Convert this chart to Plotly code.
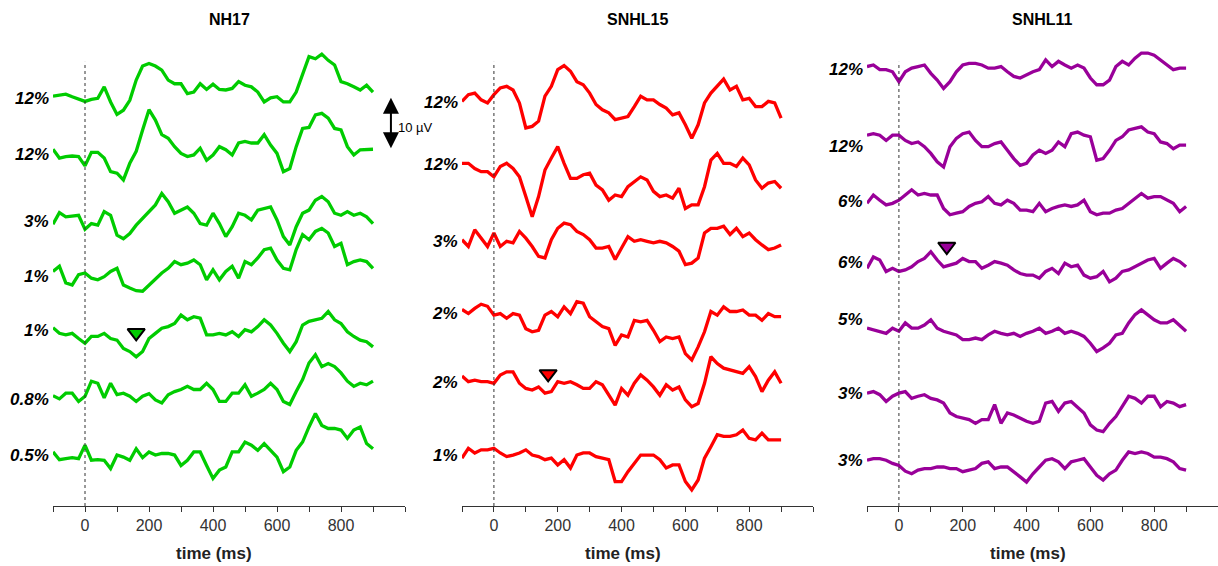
import plotly.graph_objects as go

# ---------------- data (µV, relative to each trace's own baseline) ----------------
time_ms = list(range(-100, 901, 20))

# NH17 (green)
nh17_a = [0, 0.2, 0.4, -0.1, -0.6, -1.0, -0.6, -0.4, 1.8, -1.1, -3.5, -2.7, -0.8, 3.1, 5.8, 6.3, 5.8, 5.0, 3.1, 2.4, 2.4, 0.5, 0.8, 2.4, 1.3, 2.3, 1.3, 1.2, 1.5, 2.8, 2.1, 1.8, 0.8, -1.1, -0.3, -0.1, -1.1, -1.1, 0.8, 4.0, 7.6, 7.2, 8.1, 6.9, 6.0, 2.8, 2.4, 1.8, 1.2, 2.1, 0.8]
nh17_b = [0, -1.7, -1.4, -1.3, -1.4, -3.2, -0.6, -0.6, -1.7, -4.3, -4.6, -5.9, -2.7, -0.4, 3.7, 7.6, 5.6, 2.8, 2.1, 0.5, -0.8, -1.4, -1.1, 0.2, -2.1, -1.1, 0.5, -0.1, -1.1, 1.2, 1.5, 1.2, 1.2, 2.8, 0.8, -0.8, -4.3, -3.7, 0.5, 4.0, 4.2, 6.6, 6.9, 6.0, 4.0, 3.7, 0.5, -1.1, -0.1, -0.1, 0]
nh17_c = [0, 2.2, 1.4, 1.5, 1.7, -1.0, 0.1, -0.2, 2.4, 1.7, -2.1, -2.8, -1.8, -0.2, 1.1, 2.4, 3.7, 5.9, 4.3, 2.1, 2.7, 3.3, 2.1, 0.1, -0.2, 2.1, 0.1, -2.4, -0.5, 2.1, 1.7, 0.8, 2.7, 3.0, 3.3, 0.8, -2.4, -4.0, -0.5, 2.1, 2.7, 4.6, 5.3, 4.3, 2.1, 1.7, 2.4, 1.7, 2.1, 1.4, 0.1]
nh17_d = [0, 1.0, -2.2, -2.6, -0.6, -0.3, -1.3, -1.6, -1.0, 0, 0.6, -2.6, -3.2, -3.7, -3.8, -2.6, -1.6, -0.3, 0.6, 1.9, 1.3, 1.6, 2.2, 1.3, -1.6, 0.3, -1.6, 0, 1.0, -1.3, 1.9, 1.3, 2.6, 4.2, 4.5, 2.2, 0.6, 0.3, 4.2, 7.1, 6.1, 7.7, 8.3, 7.4, 4.8, 5.4, 1.3, 1.9, 2.2, 1.9, 0.6]
nh17_e = [0, -1.1, -1.4, -1.1, -2.1, -3.0, -1.7, -1.7, -1.1, -2.1, -2.4, -4.0, -4.6, -5.6, -4.6, -2.1, -1.1, -0.1, 0.2, 0.8, 2.4, 1.5, 2.1, 1.8, -1.4, -1.4, -1.1, -1.4, -0.8, -1.7, -0.4, -0.8, 0.2, 1.5, 0.5, -1.1, -3.0, -4.6, -2.7, 0.5, 1.2, 1.5, 1.8, 3.1, 1.5, 0.8, -0.8, -1.7, -2.4, -2.7, -3.7]
nh17_f = [0, -0.6, 0.5, 0.5, -1.1, -0.1, 2.8, 2.4, -0.4, 2.4, 0.2, 0.5, -0.1, -1.1, -0.1, 0.4, -0.8, -1.4, 0.2, 0.8, 1.2, 1.8, 1.2, 1.2, 2.4, 1.2, -1.1, -1.1, 0.5, 0.5, 2.1, -0.1, 0.5, 1.2, 2.4, 1.2, -1.1, -1.7, 0.8, 3.1, 6.3, 7.9, 5.6, 6.2, 5.6, 4.4, 2.8, 1.8, 2.4, 2.1, 2.8]
nh17_g = [0, -1.5, -1.3, -1.1, -1.3, 1.3, -1.6, -1.5, -1.6, -3.2, -0.6, -1.0, -1.6, 0.6, -1.1, 0, -0.6, -0.3, -0.3, -0.6, -2.6, -1.6, 0, 0, -2.6, -5.1, -3.5, -2.9, 0, 0, 1.9, 1.3, 0.3, 1.6, 0.3, -1.0, -3.8, -2.9, 0.3, 1.9, 4.8, 7.4, 5.1, 4.5, 4.5, 4.2, 2.6, 4.2, 4.8, 1.6, 0.6]
nh17_levels = ["12%", "12%", "3%", "1%", "1%", "0.8%", "0.5%"]

# SNHL15 (red)
s15_a = [0, 1.3, 1.6, 0.3, -0.3, 1.3, 2.6, 2.9, 2.2, -0.3, -5.1, -4.8, -3.8, 1.0, 2.9, 6.1, 6.9, 5.8, 3.8, 3.2, 1.6, -0.6, -1.6, -2.2, -3.5, -3.2, -2.9, -1.0, 1.0, 0.3, 0.3, -0.6, -1.3, -2.6, -2.2, -4.5, -7.1, -4.5, -0.3, 1.6, 2.9, 4.3, 2.2, 2.9, 0.3, 0.6, -1.0, -1.0, 0, -0.3, -3.2]
s15_b = [0, 0, -1.0, -1.6, -1.6, -2.6, -0.6, 0, -1.0, -2.6, -6.4, -10.3, -6.4, -1.3, 1.0, 3.2, 0, -2.9, -2.9, -2.2, -1.9, -4.2, -5.1, -7.1, -6.1, -6.4, -4.5, -3.5, -2.6, -3.2, -5.4, -6.4, -6.1, -6.7, -4.8, -8.7, -8.0, -8.0, -4.5, 0.6, 1.9, 0, 0, -0.6, 1.0, -0.3, -3.2, -4.8, -3.8, -3.5, -4.8]
s15_c = [0, -1.3, 1.9, 0.3, -1.3, 1.3, -1.3, -0.3, -0.6, 1.6, 0.3, -1.3, -3.2, -3.5, 0, 2.2, 3.2, 2.9, 1.6, 1.0, 0, -1.6, -1.6, -1.3, -3.8, -1.6, 0.6, -0.3, 0, -0.3, -0.6, -0.3, -0.6, -1.3, -2.2, -4.8, -4.5, -3.5, 1.3, 2.2, 2.2, 2.6, 1.0, 2.2, 0.6, 1.3, 0, -1.0, -1.9, -1.6, -1.0]
s15_d = [0, -0.8, 0.2, 1.0, 0.6, -1.1, -0.8, -1.7, -0.8, -1.1, -3.7, -4.3, -4.0, -1.1, -0.4, -1.4, 0.5, -0.8, 1.5, 1.2, -1.4, -2.4, -3.3, -3.7, -6.9, -4.9, -5.3, -2.1, -2.4, -2.1, -4.0, -6.2, -5.3, -5.6, -5.3, -8.5, -9.7, -7.2, -4.3, -0.4, -1.1, 0.5, -0.4, -0.4, -0.1, -1.1, -1.1, -2.1, -0.8, -1.4, -1.4]
s15_e = [0, -1.1, -0.8, -1.1, -1.1, -1.4, 0.2, 0.8, 0.8, -1.4, -2.4, -2.7, -2.1, -3.3, -3.0, -1.1, -1.4, -1.1, -1.7, -2.4, -2.4, -1.1, -1.7, -3.7, -5.6, -2.4, -3.7, -1.4, 0.2, -0.8, -2.1, -3.7, -1.7, -2.7, -2.1, -4.6, -5.9, -5.3, -1.4, 3.7, 2.4, 1.5, 1.2, 0.8, 0.5, 1.8, -0.1, -3.0, -0.8, 0.8, -1.4]
s15_f = [0, 1.9, 1.0, 1.6, 1.6, 1.9, 1.0, 0.3, 0.6, 1.0, 1.6, 0.6, 0.3, -0.3, 0, -1.3, -0.3, -1.9, 0.6, 1.0, 1.0, 0.3, 0, -0.3, -4.5, -4.5, -2.6, -1.0, 0.6, 0.6, 0.6, -0.3, -1.9, -1.3, -1.3, -4.5, -6.1, -4.2, 0, 2.2, 4.5, 4.2, 4.2, 4.5, 5.4, 3.8, 3.5, 4.8, 3.5, 3.5, 3.5]
s15_levels = ["12%", "12%", "3%", "2%", "2%", "1%"]

# SNHL11 (purple)
s11_a = [0, 0.3, -0.6, -0.6, -1.0, -2.9, -1.0, -0.3, 0, 0.3, -1.3, -2.6, -4.2, -2.9, -1.0, 0.3, 0.6, 0.6, 0.3, -0.3, -0.3, 0, -1.0, -1.9, -2.2, -1.6, -1.0, -0.6, 1.3, 0, 1.0, 0.3, -0.3, 0.3, -0.3, -2.2, -3.5, -3.5, -2.6, 0, 1.0, 0.3, 1.6, 2.6, 2.6, 2.2, 1.3, 0.3, -0.6, -0.3, -0.3]
s11_b = [0, 0.3, 0, -1.0, 0, 0, -1.0, -1.6, -1.3, -2.2, -3.5, -5.1, -6.1, -2.2, -0.6, 0.3, 0.6, -1.0, -2.2, -2.2, -1.6, -1.3, -2.9, -4.5, -5.8, -5.4, -3.8, -2.9, -3.5, -2.9, -1.3, -2.2, 0.3, 0.6, 0, -0.3, -4.8, -4.5, -2.9, -1.0, -0.3, 1.0, 1.3, 1.6, 0.6, 0.3, -1.3, -1.6, -2.6, -1.9, -1.9]
s11_c = [0, 1.6, 0.6, -0.3, 0, 0.6, 1.6, 2.6, 1.6, 1.9, 1.6, 1.6, -1.0, -2.2, -1.9, -1.6, -0.6, 0, 0.3, 1.3, 0, -0.3, 0.6, 0, -1.3, -1.3, -1.6, 0, -1.6, -1.0, -0.6, -0.3, -0.6, -0.3, 0.6, -1.6, -2.2, -1.9, -1.9, -1.3, -1.0, 0, 1.0, 1.9, 1.0, 1.3, 1.3, 0.6, 0, -1.6, -0.6]
s11_d = [0, 2.2, 1.6, -0.6, 0, -0.6, -0.3, 0.3, 1.3, 1.9, 3.2, 1.6, 0.3, 0.6, 1.0, 1.9, 1.3, 1.3, 0, 0.6, 1.3, 1.0, 0.6, -0.3, -1.0, -1.3, -1.3, -1.9, -0.6, 0, -1.0, 1.0, 0.3, 0.6, -1.3, -1.9, -1.6, -0.6, -2.6, -1.9, -0.6, -0.3, 0.3, 1.0, 1.6, 1.9, 0, 1.0, 1.9, 1.3, 0.3]
s11_e = [0, -0.3, -0.6, -1.0, 0, -0.6, 1.0, 0, 0, 0.6, 1.6, 0, -0.6, -1.0, -1.3, -2.2, -2.2, -1.9, -2.2, -1.3, -0.6, -1.0, -1.3, -1.0, -1.6, -1.0, -0.6, 0, -1.0, -0.6, 0, -1.0, -0.6, -1.0, -1.6, -2.9, -4.5, -3.8, -2.9, -1.3, -1.0, 1.0, 2.6, 3.5, 2.6, 1.6, 1.0, 1.0, 1.6, 0.6, -0.6]
s11_f = [0, 0.3, -0.3, -1.6, -0.6, 0, 0.3, -1.0, -0.6, -0.3, -1.0, -1.3, -1.9, -3.8, -4.5, -4.8, -5.1, -5.8, -5.1, -5.1, -2.2, -5.8, -3.8, -4.2, -4.8, -5.4, -5.8, -5.4, -1.9, -1.6, -3.5, -1.9, -1.6, -2.6, -3.8, -6.1, -7.1, -7.4, -5.8, -4.5, -2.6, -0.6, -1.0, -1.9, -0.6, -0.6, -2.6, -1.6, -1.9, -2.6, -2.2]
s11_g = [0, 0.3, 0.3, 0, -0.6, -1.0, -2.1, -2.6, -1.9, -1.6, -1.6, -1.3, -1.3, -1.6, -1.6, -2.2, -1.9, -1.6, -0.6, -0.3, -1.6, -1.3, -1.3, -2.2, -3.2, -4.2, -2.6, -1.3, 0, 0.3, -0.3, -1.6, -0.3, 0, 0.3, -1.3, -2.9, -3.8, -2.6, -1.9, 0, 1.6, 1.3, 1.6, 1.3, 0.6, 0.6, 0.3, -0.3, -1.6, -1.9]
s11_levels = ["12%", "12%", "6%", "6%", "5%", "3%", "3%"]

# marked response latencies (ms) and trace index they belong to
nh17_marker = (160, 4)
s15_marker = (170, 4)
s11_marker = (150, 3)

tick_vals = list(range(-100, 1001, 100))
tick_text = ["" if v not in (0, 200, 400, 600, 800) else str(v) for v in tick_vals]

# ---------------- layout helpers (positions, not data) ----------------
FONT = "Liberation Sans, Arial, sans-serif"
Y_TOP = 97.3  # y range in µV for the 506-px plot height (5.2 px per µV)

panels = [
    dict(title="NH17", color="#00cc00", traces=[nh17_a, nh17_b, nh17_c, nh17_d, nh17_e, nh17_f, nh17_g],
         levels=nh17_levels, offsets=[78.8, 68.6, 54.2, 45.1, 34.3, 21.2, 10.4],
         label_y=[78.3, 67.5, 54.8, 44.2, 33.8, 20.4, 9.8], marker=nh17_marker, marker_dy=-1.0,
         domain=[53 / 1218, 405 / 1218]),
    dict(title="SNHL15", color="#ff0000", traces=[s15_a, s15_b, s15_c, s15_d, s15_e, s15_f],
         levels=s15_levels, offsets=[77.8, 65.9, 51.2, 37.8, 25.0, 9.2],
         label_y=[77.5, 65.6, 50.8, 37.1, 23.8, 9.8], marker=s15_marker, marker_dy=0.4,
         domain=[462 / 1218, 813 / 1218]),
    dict(title="SNHL11", color="#990099", traces=[s11_a, s11_b, s11_c, s11_d, s11_e, s11_f, s11_g],
         levels=s11_levels, offsets=[84.5, 71.3, 58.2, 45.7, 34.2, 21.7, 8.8],
         label_y=[84.0, 69.2, 58.5, 46.9, 35.8, 21.7, 8.8], marker=s11_marker, marker_dy=4.2,
         domain=[867 / 1218, 1.0]),
]

fig = go.Figure()
annotations = []
shapes = []

for i, p in enumerate(panels):
    sfx = "" if i == 0 else str(i + 1)
    xa, ya = "x" + sfx, "y" + sfx
    for vals, off in zip(p["traces"], p["offsets"]):
        fig.add_trace(go.Scatter(
            x=time_ms, y=[v + off for v in vals], xaxis=xa, yaxis=ya, mode="lines",
            line=dict(color=p["color"], width=3.3), hoverinfo="skip", showlegend=False))
    mt, mi = p["marker"]
    fig.add_trace(go.Scatter(
        x=[mt], y=[p["offsets"][mi] + p["marker_dy"]], xaxis=xa, yaxis=ya, mode="markers",
        marker=dict(symbol="triangle-down", size=15, color=p["color"],
                    line=dict(color="black", width=2)),
        hoverinfo="skip", showlegend=False))
    for lab, ly in zip(p["levels"], p["label_y"]):
        annotations.append(dict(
            x=-100, y=ly, xref=xa, yref=ya, text="<b><i>" + lab + "</i></b>",
            showarrow=False, xanchor="right", yanchor="middle", xshift=-2,
            font=dict(family=FONT, size=17, color="black")))
    annotations.append(dict(
        x=(p["domain"][0] + p["domain"][1]) / 2, y=(506 - 19) / 506, xref="paper", yref="paper",
        text="<b>" + p["title"] + "</b>", showarrow=False, xanchor="center", yanchor="middle",
        font=dict(family=FONT, size=16, color="black")))
    annotations.append(dict(
        x=(p["domain"][0] + p["domain"][1]) / 2 - 0.012, y=-(553 - 506) / 506,
        xref="paper", yref="paper", text="<b>time (ms)</b>", showarrow=False,
        xanchor="center", yanchor="middle", font=dict(family=FONT, size=17, color="#222222")))
    shapes.append(dict(type="line", xref=xa, yref=ya, x0=0, x1=0, y0=0, y1=85.4,
                       line=dict(color="#333333", width=1, dash="dot")))
    fig.update_layout(**{
        "xaxis" + sfx: dict(domain=p["domain"], range=[-100, 1000], anchor=ya,
                            tickmode="array", tickvals=tick_vals, ticktext=tick_text,
                            ticks="outside", ticklen=5, tickcolor="#333333", showline=True,
                            linecolor="#333333", linewidth=1, showgrid=False, zeroline=False,
                            tickfont=dict(family=FONT, size=16, color="#333333")),
        "yaxis" + sfx: dict(domain=[0, 1], range=[0, Y_TOP], anchor=xa, visible=False,
                            showgrid=False, zeroline=False),
    })

# 10 µV scale bar (panel 1)
annotations.append(dict(x=956, y=78.5, ax=956, ay=68.5, xref="x", yref="y", axref="x", ayref="y",
                        text="", showarrow=True, arrowhead=2, arrowside="end+start",
                        arrowsize=1.6, arrowwidth=2, arrowcolor="black", startarrowhead=2,
                        startarrowsize=1.6))
annotations.append(dict(x=972, y=72.7, xref="x", yref="y", text="10 µV", showarrow=False,
                        xanchor="left", yanchor="middle",
                        font=dict(family=FONT, size=13, color="black")))

fig.update_layout(
    width=1218, height=566, margin=dict(l=0, r=0, t=0, b=60),
    paper_bgcolor="white", plot_bgcolor="white",
    annotations=annotations, shapes=shapes, showlegend=False,
)

fig.write_html("out.html")
